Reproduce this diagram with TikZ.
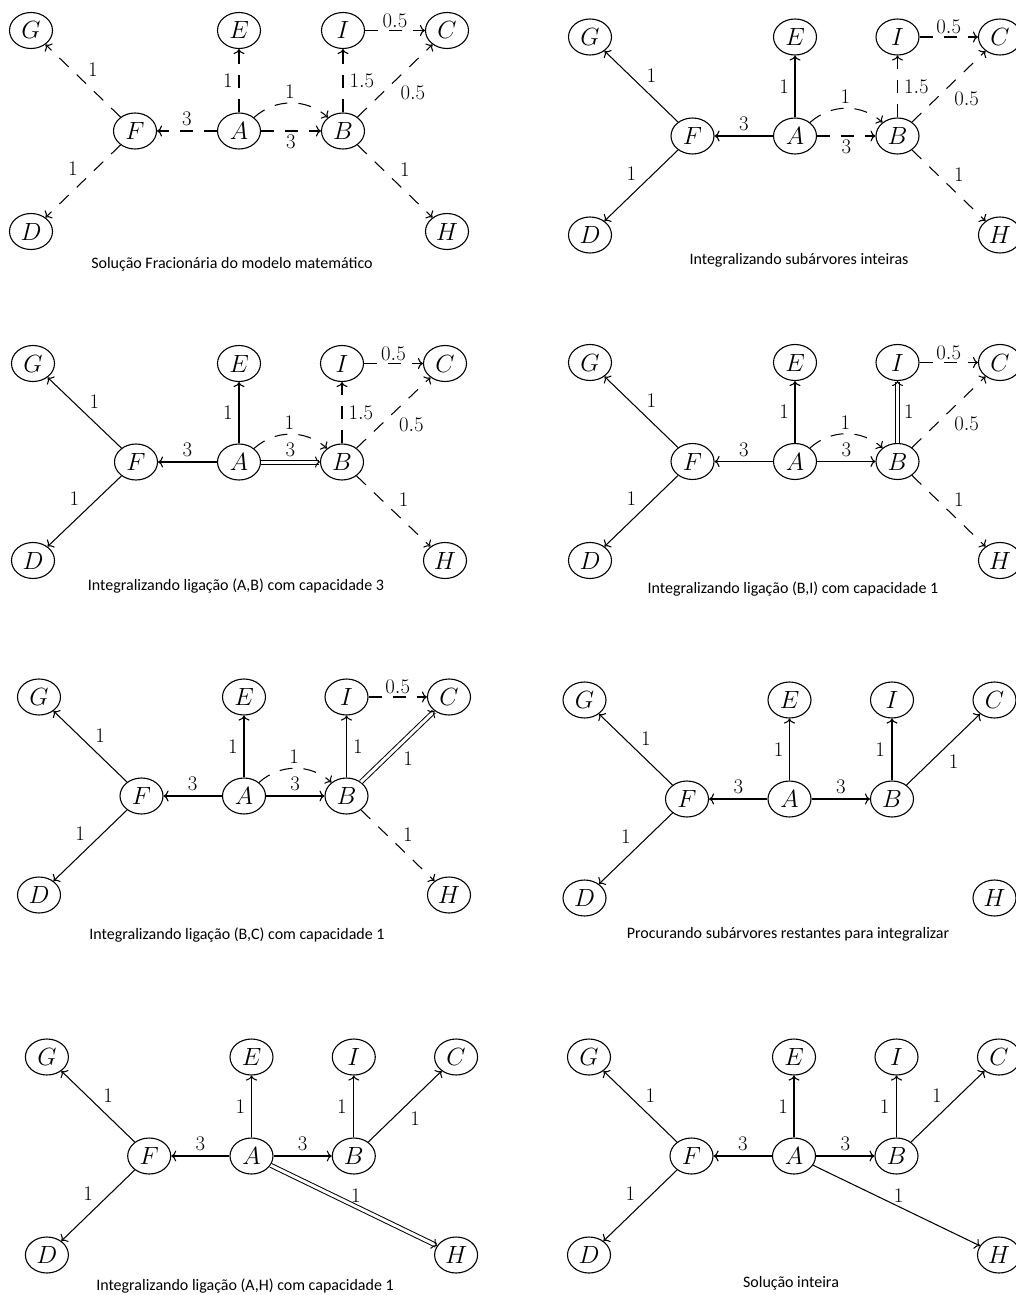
\documentclass[tikz,border=0pt]{standalone}
\usepackage{fontspec}
\newfontfamily\capfont{Carlito}
\usetikzlibrary{shapes.geometric,arrows.meta}
\tikzset{
  vert/.style={ellipse, draw, line width=1.1pt, minimum width=43pt, minimum height=36pt, inner sep=0pt, font=\fontsize{25}{30}\selectfont},
  edg/.style={line width=1.05pt, -{Computer Modern Rightarrow[length=5pt,width=11pt]}},
  dsh/.style={edg, dash pattern=on 13pt off 11pt},
  dbl/.style={edg, double, double distance=3pt, line width=1pt},
  lbl/.style={inner sep=0pt, font=\fontsize{20}{23}\selectfont},
  captxt/.style={inner sep=0pt, font=\capfont\fontsize{16}{19}\selectfont}
}
\newcommand\mkpanel[5]{%
  \node[vert] (#1A) at (#2,#3) {$A$};
  \node[vert] (#1F) at ({#2-#4},#3) {$F$};
  \node[vert] (#1B) at ({#2+#4},#3) {$B$};
  \node[vert] (#1E) at (#2,{#3-#5}) {$E$};
  \node[vert] (#1I) at ({#2+#4},{#3-#5}) {$I$};
  \node[vert] (#1C) at ({#2+2*#4},{#3-#5}) {$C$};
  \node[vert] (#1G) at ({#2-2*#4},{#3-#5}) {$G$};
  \node[vert] (#1D) at ({#2-2*#4},{#3+#5}) {$D$};
  \node[vert] (#1H) at ({#2+2*#4},{#3+#5}) {$H$};
}
\begin{document}
\begin{tikzpicture}[x=1pt,y=-1pt]
\useasboundingbox (0,0) rectangle (1015,1295);
\fill[white] (0,0) rectangle (1015,1295);

% ---------- Panel 1 ----------
\mkpanel{a}{239}{131}{104}{100.5}
\draw[dsh] (aA) -- node[lbl,midway,shift={(0,-12)}]{$3$} (aF);
\draw[dsh] (aA) -- node[lbl,midway,shift={(-11,0)}]{$1$} (aE);
\draw[dsh] (aA) to[out=42,in=138] node[lbl,midway,shift={(-1,-11)}]{$1$} (aB);
\draw[dsh] (aA) -- node[lbl,midway,shift={(0,11)}]{$3$} (aB);
\draw[dsh] (aF) -- node[lbl,midway,shift={(10,-11)}]{$1$} (aG);
\draw[dsh] (aF) -- node[lbl,midway,shift={(-10,-12)}]{$1$} (aD);
\draw[dsh] (aB) -- node[lbl,midway,anchor=west,shift={(6,0)}]{$1.5$} (aI);
\draw[dsh] (aB) -- node[lbl,midway,anchor=west,shift={(5,12)}]{$0.5$} (aC);
\draw[dsh] (aI) -- node[lbl,midway,shift={(0,-10)}]{$0.5$} (aC);
\draw[dsh] (aB) -- node[lbl,midway,shift={(10,-11)}]{$1$} (aH);
\node[captxt] (capa) at (232,264) {Solução Fracionária do modelo matemático};

% ---------- Panel 2 ----------
\mkpanel{b}{795}{136}{102.5}{99}
\draw[edg] (bA) -- node[lbl,midway,shift={(0,-12)}]{$3$} (bF);
\draw[edg] (bA) -- node[lbl,midway,shift={(-11,0)}]{$1$} (bE);
\draw[dsh] (bA) to[out=42,in=138] node[lbl,midway,shift={(-1,-11)}]{$1$} (bB);
\draw[dsh] (bA) -- node[lbl,midway,shift={(0,11)}]{$3$} (bB);
\draw[edg] (bF) -- node[lbl,midway,shift={(10,-11)}]{$1$} (bG);
\draw[edg] (bF) -- node[lbl,midway,shift={(-10,-12)}]{$1$} (bD);
\draw[dsh] (bB) -- node[lbl,midway,anchor=west,shift={(6,0)}]{$1.5$} (bI);
\draw[dsh] (bB) -- node[lbl,midway,anchor=west,shift={(5,12)}]{$0.5$} (bC);
\draw[dsh] (bI) -- node[lbl,midway,shift={(0,-10)}]{$0.5$} (bC);
\draw[dsh] (bB) -- node[lbl,midway,shift={(10,-11)}]{$1$} (bH);
\node[captxt] (capb) at (799,260) {Integralizando subárvores inteiras};

% ---------- Panel 3 ----------
\mkpanel{c}{239}{462}{103}{98.5}
\draw[edg] (cA) -- node[lbl,midway,shift={(0,-12)}]{$3$} (cF);
\draw[edg] (cA) -- node[lbl,midway,shift={(-11,0)}]{$1$} (cE);
\draw[dsh] (cA) to[out=42,in=138] node[lbl,midway,shift={(-1,-11)}]{$1$} (cB);
\draw[dbl] (cA) -- node[lbl,midway,shift={(0,-12)}]{$3$} (cB);
\draw[edg] (cF) -- node[lbl,midway,shift={(10,-11)}]{$1$} (cG);
\draw[edg] (cF) -- node[lbl,midway,shift={(-10,-12)}]{$1$} (cD);
\draw[dsh] (cB) -- node[lbl,midway,anchor=west,shift={(6,0)}]{$1.5$} (cI);
\draw[dsh] (cB) -- node[lbl,midway,anchor=west,shift={(5,12)}]{$0.5$} (cC);
\draw[dsh] (cI) -- node[lbl,midway,shift={(0,-10)}]{$0.5$} (cC);
\draw[dsh] (cB) -- node[lbl,midway,shift={(10,-11)}]{$1$} (cH);
\node[captxt] (capc) at (236,586) {Integralizando ligação (A,B) com capacidade 3};

% ---------- Panel 4 ----------
\mkpanel{d}{795}{461.5}{102.5}{99}
\draw[edg] (dA) -- node[lbl,midway,shift={(0,-12)}]{$3$} (dF);
\draw[edg] (dA) -- node[lbl,midway,shift={(-11,0)}]{$1$} (dE);
\draw[dsh] (dA) to[out=42,in=138] node[lbl,midway,shift={(-1,-11)}]{$1$} (dB);
\draw[edg] (dA) -- node[lbl,midway,shift={(0,-12)}]{$3$} (dB);
\draw[edg] (dF) -- node[lbl,midway,shift={(10,-11)}]{$1$} (dG);
\draw[edg] (dF) -- node[lbl,midway,shift={(-10,-12)}]{$1$} (dD);
\draw[dbl] (dB) -- node[lbl,midway,anchor=west,shift={(6,0)}]{$1$} (dI);
\draw[dsh] (dB) -- node[lbl,midway,anchor=west,shift={(5,12)}]{$0.5$} (dC);
\draw[dsh] (dI) -- node[lbl,midway,shift={(0,-10)}]{$0.5$} (dC);
\draw[dsh] (dB) -- node[lbl,midway,shift={(10,-11)}]{$1$} (dH);
\node[captxt] (capd) at (793,589) {Integralizando ligação (B,I) com capacidade 1};

% ---------- Panel 5 ----------
\mkpanel{e}{244}{796}{102.5}{99}
\draw[edg] (eA) -- node[lbl,midway,shift={(0,-12)}]{$3$} (eF);
\draw[edg] (eA) -- node[lbl,midway,shift={(-11,0)}]{$1$} (eE);
\draw[dsh] (eA) to[out=42,in=138] node[lbl,midway,shift={(-1,-11)}]{$1$} (eB);
\draw[edg] (eA) -- node[lbl,midway,shift={(0,-12)}]{$3$} (eB);
\draw[edg] (eF) -- node[lbl,midway,shift={(10,-11)}]{$1$} (eG);
\draw[edg] (eF) -- node[lbl,midway,shift={(-10,-12)}]{$1$} (eD);
\draw[edg] (eB) -- node[lbl,midway,anchor=west,shift={(6,0)}]{$1$} (eI);
\draw[dbl] (eB) -- node[lbl,midway,anchor=west,shift={(5,12)}]{$1$} (eC);
\draw[dsh] (eI) -- node[lbl,midway,shift={(0,-10)}]{$0.5$} (eC);
\draw[dsh] (eB) -- node[lbl,midway,shift={(10,-11)}]{$1$} (eH);
\node[captxt] (cape) at (237,935) {Integralizando ligação (B,C) com capacidade 1};

% ---------- Panel 6 ----------
\mkpanel{f}{789.5}{799}{102.5}{99}
\draw[edg] (fA) -- node[lbl,midway,shift={(0,-12)}]{$3$} (fF);
\draw[edg] (fA) -- node[lbl,midway,shift={(-11,0)}]{$1$} (fE);
\draw[edg] (fA) -- node[lbl,midway,shift={(0,-12)}]{$3$} (fB);
\draw[edg] (fF) -- node[lbl,midway,shift={(10,-11)}]{$1$} (fG);
\draw[edg] (fF) -- node[lbl,midway,shift={(-10,-12)}]{$1$} (fD);
\draw[edg] (fB) -- node[lbl,midway,shift={(-12,0)}]{$1$} (fI);
\draw[edg] (fB) -- node[lbl,midway,anchor=west,shift={(5,12)}]{$1$} (fC);
\node[captxt] (capf) at (788,934) {Procurando subárvores restantes para integralizar};

% ---------- Panel 7 ----------
\mkpanel{g}{251.5}{1156}{102.3}{99}
\draw[edg] (gA) -- node[lbl,midway,shift={(0,-12)}]{$3$} (gF);
\draw[edg] (gA) -- node[lbl,midway,shift={(-11,0)}]{$1$} (gE);
\draw[edg] (gA) -- node[lbl,midway,shift={(0,-12)}]{$3$} (gB);
\draw[edg] (gF) -- node[lbl,midway,shift={(10,-11)}]{$1$} (gG);
\draw[edg] (gF) -- node[lbl,midway,shift={(-10,-12)}]{$1$} (gD);
\draw[edg] (gB) -- node[lbl,midway,shift={(-12,0)}]{$1$} (gI);
\draw[edg] (gB) -- node[lbl,midway,anchor=west,shift={(5,12)}]{$1$} (gC);
\draw[dbl] (gA) -- node[lbl,midway,shift={(2,-10)}]{$1$} (gH);
\node[captxt] (capg) at (245,1286) {Integralizando ligação (A,H) com capacidade 1};

% ---------- Panel 8 ----------
\mkpanel{h}{794}{1156}{102.5}{99}
\draw[edg] (hA) -- node[lbl,midway,shift={(0,-12)}]{$3$} (hF);
\draw[edg] (hA) -- node[lbl,midway,shift={(-11,0)}]{$1$} (hE);
\draw[edg] (hA) -- node[lbl,midway,shift={(0,-12)}]{$3$} (hB);
\draw[edg] (hF) -- node[lbl,midway,shift={(10,-11)}]{$1$} (hG);
\draw[edg] (hF) -- node[lbl,midway,shift={(-10,-12)}]{$1$} (hD);
\draw[edg] (hB) -- node[lbl,midway,shift={(-12,0)}]{$1$} (hI);
\draw[edg] (hB) -- node[lbl,midway,shift={(-11,-11)}]{$1$} (hC);
\draw[edg] (hA) -- node[lbl,midway,shift={(2,-10)}]{$1$} (hH);
\node[captxt] (caph) at (791,1283) {Solução inteira};
\end{tikzpicture}
\end{document}
